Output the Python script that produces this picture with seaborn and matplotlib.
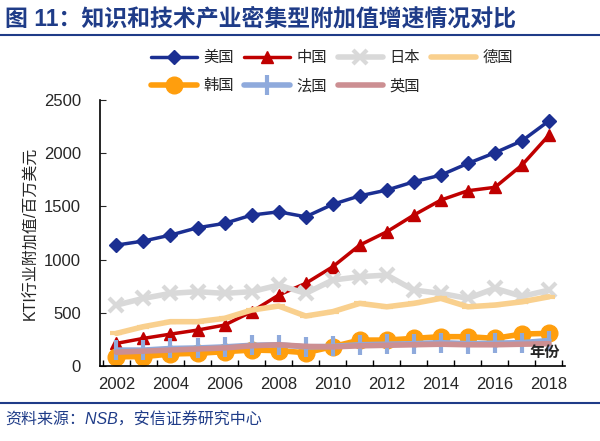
import numpy as np
import pandas as pd
import seaborn as sns
import matplotlib.pyplot as plt
from matplotlib.lines import Line2D

years = list(range(2002, 2019))
usa = [1137, 1175, 1231, 1300, 1341, 1419, 1450, 1403, 1520, 1600, 1654, 1732, 1795, 1905, 2005, 2117, 2305]
china = [213, 260, 300, 338, 385, 510, 667, 777, 933, 1137, 1262, 1419, 1560, 1648, 1680, 1889, 2171]
japan = [573, 636, 683, 699, 683, 699, 761, 683, 808, 840, 855, 714, 683, 636, 730, 655, 714]
germany = [307, 370, 417, 417, 448, 526, 564, 470, 511, 589, 557, 589, 636, 557, 573, 604, 651]
korea = [88, 88, 113, 119, 135, 150, 145, 125, 182, 244, 244, 260, 276, 276, 260, 301, 307]
france = [150, 150, 165, 170, 180, 195, 200, 180, 185, 200, 205, 210, 220, 210, 215, 220, 240]
uk = [130, 140, 150, 160, 170, 190, 200, 185, 180, 190, 195, 200, 205, 200, 200, 205, 210]

sns.set_style("ticks")
plt.rcParams['font.family'] = ['Liberation Sans', 'Noto Sans CJK SC']

fig = plt.figure(figsize=(6, 4.41), dpi=100)
ax = fig.add_axes([0.167, 0.170, 0.775, 0.603])

series = [
    ("美国", usa, "#1B2F92", "D", 7, 2.5),
    ("中国", china, "#C00000", "^", 9, 2.5),
    ("日本", japan, "#D9D9D9", "x", 10, 4),
    ("德国", germany, "#F9D08E", "_", 8, 4),
    ("韩国", korea, "#FF9E0D", "o", 12, 4),
    ("法国", france, "#8FAADC", "|", 14, 4),
    ("英国", uk, "#CC8F92", None, 0, 4),
]

for name, vals, col, mk, ms, lw in series:
    df = pd.DataFrame({"year": years, "val": vals})
    sns.lineplot(data=df, x="year", y="val", ax=ax, color=col, marker=mk,
                 markersize=ms, linewidth=lw, label=name,
                 markeredgecolor=col, markeredgewidth=3 if mk in ("x", "|", "_") else 1)

ax.set_xlim(2001.4, 2018.6)
ax.set_ylim(0, 2500)
ax.set_yticks([0, 500, 1000, 1500, 2000, 2500])
ax.set_xticks(np.arange(2001.5, 2018.6, 1))
ax.set_xticklabels([])
ax.set_xticks(years[::2], minor=True)
ax.set_xticklabels([str(y) for y in years[::2]], minor=True)
ax.tick_params(axis="x", which="major", direction="in", length=4, width=1, color="black")
ax.tick_params(axis="x", which="minor", length=0, labelsize=12, pad=8)
ax.tick_params(axis="y", direction="in", length=4, labelsize=12, pad=14)
for s in ["left", "bottom"]:
    ax.spines[s].set_color("black")
    ax.spines[s].set_linewidth(1.2)
sns.despine(ax=ax)
ax.set_xlabel("")
ax.set_ylabel("KTI行业附加值/百万美元", fontsize=11.5, labelpad=4)
ax.text(2017.85, 120, "年份", fontsize=11, fontweight="bold", ha="center", va="center")

handles, labels = ax.get_legend_handles_labels()
order = [0, 4, 1, 5, 2, 6, 3]
ax.legend([handles[i] for i in order], [labels[i] for i in order], ncol=4,
          frameon=False, fontsize=11, handlelength=3.0, columnspacing=0.7,
          handletextpad=0.4, labelspacing=0.9, loc="lower left",
          bbox_to_anchor=(0.095, 1.0), borderaxespad=0.05)

fig.text(0.008, 0.958, "图 11：知识和技术产业密集型附加值增速情况对比", fontsize=16.5,
         fontweight="bold", color="#1F3C88", ha="left", va="center")
fig.add_artist(Line2D([0, 1], [0.921, 0.921], color="#1F3C88", lw=1.5))
fig.add_artist(Line2D([0, 1], [0.087, 0.087], color="#1F3C88", lw=1.5))
fig.text(0.008, 0.047, "资料来源：NSB，安信证券研究中心", fontsize=11.5, style="italic",
         color="#1F3C88", ha="left", va="center")

fig.savefig("out.png", dpi=100)
